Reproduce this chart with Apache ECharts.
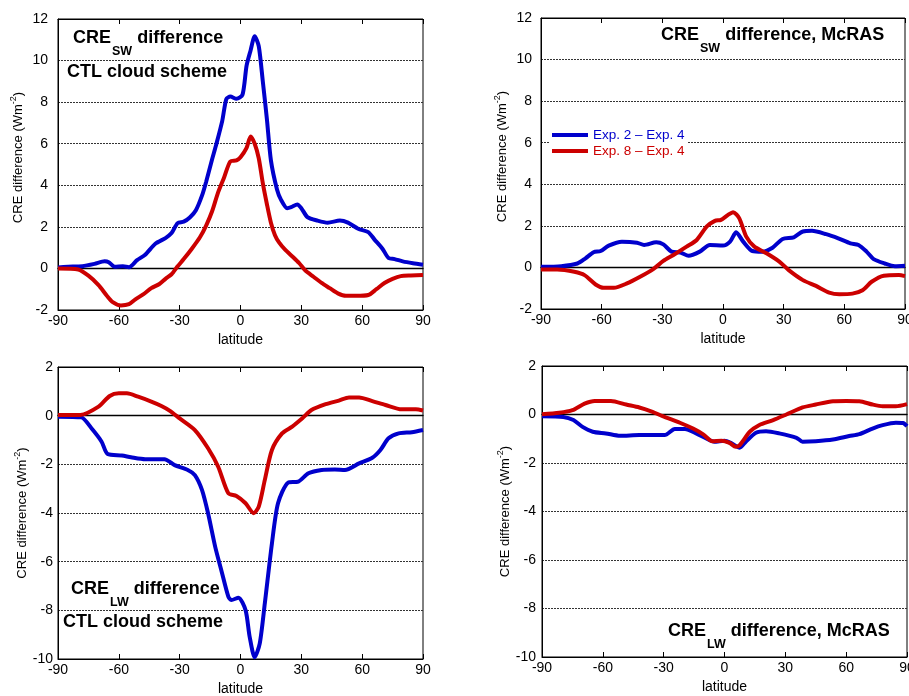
<!DOCTYPE html>
<html><head><meta charset="utf-8">
<script src="https://cdn.jsdelivr.net/npm/echarts@6/dist/echarts.min.js"></script>
<style>html,body{margin:0;padding:0;background:#fff}#c{width:909px;height:696px}</style>
</head><body><div id="c"></div>
<script>
// ---- tick labels ----
const xTicks = [-90, -60, -30, 0, 30, 60, 90];
const ySwTicks = [-2, 0, 2, 4, 6, 8, 10, 12];
const yLwTicks = [-10, -8, -6, -4, -2, 0, 2];
const seriesNames = ['Exp. 2 \u2013 Exp. 4', 'Exp. 8 \u2013 Exp. 4'];

// ---- CRE SW, CTL cloud scheme ----
const latSwCtlBlue = [-90,-85,-78,-72,-67,-65,-62,-58,-55,-51,-47,-42,-37,-34,-31,-28,-25,-22,-19,-17,-14,-12,-9,-7,-5,-2,1,3,5,7,9,11,13,15,18,20,23,25,28,30,33,38,43,49,53,58,63,66,70,73,76,80,85,90];
const swCtlBlue = [0.05,0.08,0.11,0.22,0.34,0.3,0.08,0.1,0.06,0.4,0.66,1.19,1.46,1.7,2.18,2.25,2.45,2.8,3.5,4.15,5.25,5.95,7.1,8.15,8.27,8.16,8.36,9.76,10.5,11.17,10.7,9.0,7.2,5.2,3.8,3.3,2.9,2.95,3.08,2.9,2.47,2.3,2.2,2.3,2.2,1.91,1.75,1.4,0.95,0.5,0.45,0.34,0.25,0.18];
const latSwCtlRed = [-90,-80,-75,-70,-66,-63,-59,-55,-52,-48,-44,-40,-37,-34,-31,-28,-24,-20,-17,-14,-11,-8,-5,-2,0,3,5,7,9,11,13,15,17,19,22,26,29,32,36,40,44,48,52,57,63,67,71,75,79,84,90];
const swCtlRed = [0,-0.05,-0.35,-0.8,-1.3,-1.62,-1.78,-1.72,-1.5,-1.25,-0.95,-0.75,-0.5,-0.28,0.1,0.45,0.95,1.5,2.05,2.75,3.67,4.4,5.15,5.2,5.35,5.8,6.35,6.0,5.3,4.1,3.1,2.2,1.6,1.25,0.9,0.54,0.25,-0.1,-0.4,-0.7,-0.95,-1.2,-1.32,-1.32,-1.28,-1.0,-0.7,-0.5,-0.37,-0.34,-0.32];

// ---- CRE SW, McRAS ----
const latSwMcBlue = [-90,-80,-72,-68,-64,-60.5,-56.5,-50,-42.5,-39,-33,-29.5,-25.5,-21,-17,-11.5,-6.5,0,3.5,6.5,10,14.5,19.5,24.5,29.5,35,39.5,44,51,57,63,67,71,74.5,80,85,90];
const swMcBlue = [0.03,0.06,0.19,0.44,0.73,0.79,1.05,1.24,1.19,1.08,1.21,1.11,0.76,0.71,0.56,0.76,1.08,1.05,1.24,1.69,1.24,0.79,0.76,0.95,1.37,1.45,1.73,1.76,1.6,1.4,1.16,1.08,0.76,0.4,0.19,0.06,0.08];
const latSwMcRed = [-90,-82,-73.5,-68.5,-63,-59,-54,-47.5,-41,-34.5,-29.5,-24.5,-18,-13,-8,-4,-1,2.5,5,8,11.5,15.5,21.5,28,32.5,39.5,46,52.5,57.5,64,69,73.5,79.5,87,90];
const swMcRed = [-0.1,-0.1,-0.21,-0.37,-0.82,-0.98,-0.98,-0.77,-0.45,-0.08,0.31,0.6,1.0,1.32,1.97,2.24,2.29,2.53,2.66,2.37,1.48,1.0,0.68,0.27,-0.13,-0.61,-0.89,-1.21,-1.29,-1.26,-1.1,-0.69,-0.4,-0.37,-0.42];

// ---- CRE LW, CTL cloud scheme ----
const latLwCtlBlue = [-90,-78.5,-73.5,-68.5,-65.5,-58.5,-54,-47,-37.5,-32.5,-26,-22.5,-19,-16,-12.5,-9.5,-6,-4.5,-1,2.5,4.5,7,9.5,12,15.5,18.5,23.5,28.5,33.5,40,46.5,51.5,58.5,65,69,73,78,84.5,90];
const lwCtlBlue = [-0.04,-0.07,-0.52,-1.07,-1.58,-1.64,-1.71,-1.79,-1.79,-2.03,-2.23,-2.44,-3.05,-4.01,-5.38,-6.34,-7.44,-7.58,-7.48,-7.99,-9.08,-9.93,-9.36,-7.71,-5.25,-3.6,-2.75,-2.71,-2.37,-2.23,-2.21,-2.23,-1.96,-1.73,-1.41,-0.93,-0.73,-0.68,-0.59];
const latLwCtlRed = [-90,-79,-70,-64.5,-60,-56,-50.5,-44,-39,-35,-30,-22.5,-16,-11,-6,-2,2.5,6.5,9,12,15.5,20.5,25.5,30.5,35,42,48.5,53.5,58.5,65,71.5,79.5,86.5,90];
const lwCtlRed = [0.03,0.03,0.37,0.81,0.92,0.92,0.78,0.58,0.4,0.21,-0.11,-0.59,-1.34,-2.1,-3.19,-3.3,-3.6,-4.01,-3.74,-2.64,-1.41,-0.73,-0.45,-0.11,0.23,0.47,0.62,0.75,0.75,0.6,0.44,0.26,0.26,0.21];

// ---- CRE LW, McRAS ----
const latLwMcBlue = [-90,-79.5,-74.5,-70,-65,-58.5,-51.5,-42,-29.5,-24.5,-19.5,-14,-9,-5,0,3.5,7.5,10.5,15.5,20.5,27,35.5,38.5,45,53.5,61.5,66.5,73,78,84.5,88,90];
const lwMcBlue = [-0.07,-0.1,-0.23,-0.51,-0.71,-0.78,-0.88,-0.85,-0.85,-0.6,-0.6,-0.78,-0.99,-1.12,-1.08,-1.19,-1.37,-1.12,-0.75,-0.69,-0.78,-0.96,-1.12,-1.1,-1.03,-0.89,-0.81,-0.58,-0.44,-0.34,-0.35,-0.48];
const latLwMcRed = [-90,-81.5,-75,-69,-64,-56,-48.5,-42,-35.5,-30.5,-22,-15.5,-10.5,-6,-1.5,2.5,5.5,7.5,12.5,17,24,30.5,38.5,45,53.5,60,66.5,73,78,84.5,90];
const lwMcRed = [0.01,0.07,0.18,0.45,0.56,0.56,0.41,0.29,0.11,-0.07,-0.34,-0.58,-0.82,-1.1,-1.08,-1.17,-1.33,-1.26,-0.71,-0.44,-0.23,0,0.29,0.41,0.55,0.56,0.55,0.41,0.34,0.34,0.43];

// ---------------------------------------------------------------
const BLUE = '#0000cc', RED = '#cc0000';
const FONT = '"Liberation Sans", Arial, Helvetica, sans-serif';
const pairs = (lat, v) => lat.map((x, i) => [x, v[i]]);

const gridBoxes = [
  {left: 58, top: 19, width: 365, height: 291},
  {left: 541, top: 18, width: 364, height: 291},
  {left: 58, top: 367, width: 365, height: 292},
  {left: 542, top: 366, width: 365, height: 291}
];
const yTickSets = [ySwTicks, ySwTicks, yLwTicks, yLwTicks];
const yLabelMargin = [10, 9, 5, 6];
const yNameGap = [31, 30, 25, 26];
const yNameShift = [14, 14, 0, 0];

const grid = gridBoxes.map(g => Object.assign({
  show: true, borderColor: '#000', borderWidth: 1, backgroundColor: 'transparent',
  containLabel: false, outerBoundsMode: 'none'
}, g));

const xAxis = [];
const yAxis = [];
gridBoxes.forEach((g, i) => {
  const base = {
    type: 'value', gridIndex: i,
    min: xTicks[0], max: xTicks[xTicks.length - 1], interval: xTicks[1] - xTicks[0],
    splitLine: {show: false}
  };
  xAxis.push(Object.assign({}, base, {
    position: 'bottom',
    axisLine: {show: true, onZero: false, lineStyle: {color: '#000', width: 1}},
    axisTick: {show: true, inside: true, length: 5, lineStyle: {color: '#000'}},
    axisLabel: {show: true, color: '#000', fontSize: 14, fontFamily: FONT, margin: 4, hideOverlap: false},
    name: 'latitude', nameLocation: 'middle', nameGap: 23,
    nameTextStyle: {color: '#000', fontSize: 14, fontFamily: FONT}
  }));
  xAxis.push(Object.assign({}, base, {
    position: 'top',
    axisLine: {show: true, onZero: false, lineStyle: {color: '#000', width: 1}},
    axisTick: {show: true, inside: true, length: 5, lineStyle: {color: '#000'}},
    axisLabel: {show: false}
  }));
  xAxis.push(Object.assign({}, base, {
    position: 'bottom',
    axisLine: {show: true, onZero: true, lineStyle: {color: '#000', width: 1.3}},
    axisTick: {show: false},
    axisLabel: {show: false}
  }));
  const yt = yTickSets[i];
  yAxis.push({
    type: 'value', gridIndex: i, position: 'left',
    min: yt[0], max: yt[yt.length - 1], interval: yt[1] - yt[0],
    axisLine: {show: true, onZero: false, lineStyle: {color: '#000', width: 1}},
    axisTick: {show: false},
    axisLabel: {color: '#000', fontSize: 14, fontFamily: FONT, margin: yLabelMargin[i]},
    splitLine: {show: true, lineStyle: {color: '#333', width: 1, type: [2, 1]}},
    name: '{n|CRE difference (Wm}{s|-2}{n|)}',
    nameLocation: 'middle', nameRotate: 90, nameGap: yNameGap[i],
    nameTextStyle: {
      padding: [0, 0, 0, yNameShift[i]],
      rich: {
        n: {fontSize: 13, fontFamily: FONT, color: '#000'},
        s: {fontSize: 9, fontFamily: FONT, color: '#000', padding: [0, 0, 9, 0]}
      }
    }
  });
});

const panelData = [
  [pairs(latSwCtlBlue, swCtlBlue), pairs(latSwCtlRed, swCtlRed)],
  [pairs(latSwMcBlue, swMcBlue), pairs(latSwMcRed, swMcRed)],
  [pairs(latLwCtlBlue, lwCtlBlue), pairs(latLwCtlRed, lwCtlRed)],
  [pairs(latLwMcBlue, lwMcBlue), pairs(latLwMcRed, lwMcRed)]
];
const series = [];
panelData.forEach((pd, i) => {
  pd.forEach((d, k) => {
    series.push({
      type: 'line', name: seriesNames[k],
      xAxisIndex: i * 3, yAxisIndex: i,
      data: d, showSymbol: false, symbol: 'none', smooth: 0.25,
      lineStyle: {color: k === 0 ? BLUE : RED, width: 4},
      itemStyle: {color: k === 0 ? BLUE : RED},
      z: 3 + k
    });
  });
});

const titleRich = {
  a: {fontSize: 18, fontWeight: 'bold', fontFamily: FONT, color: '#000', lineHeight: 18, verticalAlign: 'top'},
  b: {fontSize: 12.5, fontWeight: 'bold', fontFamily: FONT, color: '#000', lineHeight: 13, verticalAlign: 'top', padding: [16, 0, 0, 1]}
};
const mkTitle = (text, left, top) => ({text, left, top, padding: 0, textStyle: {rich: titleRich}});
const title = [
  mkTitle('{a|CRE}{b|SW}{a| difference}', 73, 29),
  mkTitle('{a|CTL cloud scheme}', 67, 63),
  mkTitle('{a|CRE}{b|SW}{a| difference, McRAS}', 661, 26),
  mkTitle('{a|CRE}{b|LW}{a| difference}', 71, 580),
  mkTitle('{a|CTL cloud scheme}', 63, 613),
  mkTitle('{a|CRE}{b|LW}{a| difference, McRAS}', 668, 622.5)
];

const chart = echarts.init(document.getElementById('c'), null, {renderer: 'canvas'});
chart.setOption({
  animation: false,
  backgroundColor: '#fff',
  title, grid, xAxis, yAxis, series,
  legend: {
    left: 549, top: 127, orient: 'vertical',
    icon: 'rect', itemWidth: 36, itemHeight: 4, itemGap: 2,
    backgroundColor: '#fff', padding: [1, 3, 1, 3],
    selectedMode: false,
    textStyle: {fontSize: 13.5, fontFamily: FONT},
    data: [
      {name: seriesNames[0], textStyle: {color: BLUE}},
      {name: seriesNames[1], textStyle: {color: RED}}
    ]
  }
});
</script></body></html>
